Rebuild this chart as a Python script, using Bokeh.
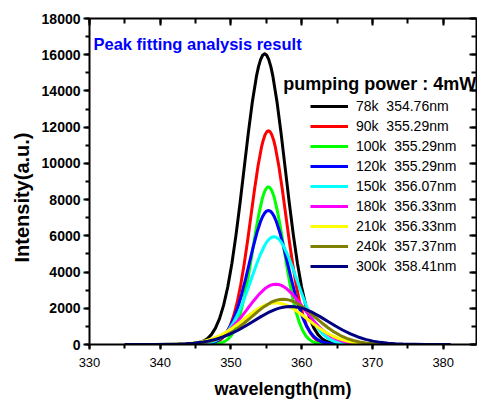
from bokeh.plotting import figure
from bokeh.models import (Range1d, LinearAxis, SingleIntervalTicker, Legend,
                          LegendItem, Label, Title)
from bokeh.embed import file_html
from bokeh.resources import INLINE

# ---------------- data ----------------
temperatures = ["78k", "90k", "100k", "120k", "150k", "180k", "210k", "240k", "300k"]
peak_nm = ["354.76", "355.29", "355.29", "355.29", "356.07", "356.33", "356.33", "357.37", "358.41"]
colors = ["#000000", "#ff0000", "#00ff00", "#0000ff", "#00ffff",
          "#ff00ff", "#ffff00", "#808000", "#000080"]

wl_78k = [335, 343.16, 344.32, 345.19, 346.06, 346.64, 347.22, 347.80, 348.38, 348.96, 349.54,
          350.12, 350.70, 351.28, 351.86, 352.44, 353.02, 353.60, 353.89, 354.18, 354.47, 354.76,
          355.05, 355.34, 355.63, 355.92, 356.50, 357.08, 357.66, 358.24, 358.82, 359.40, 359.98,
          360.56, 361.14, 361.72, 362.30, 362.88, 363.46, 364.33, 365.20, 366.36, 381]
int_78k = [0, 5, 25, 69, 178, 318, 547, 901, 1427, 2172, 3176, 4463, 6024, 7812, 9735, 11655,
           13406, 14816, 15344, 15732, 15970, 16050, 15970, 15732, 15344, 14816, 13406, 11655,
           9735, 7812, 6024, 4463, 3176, 2172, 1427, 901, 547, 318, 178, 69, 25, 5, 0]

wl_90k = [335, 345.49, 346.47, 347.21, 347.94, 348.43, 348.92, 349.41, 349.90, 350.39, 350.88,
          351.37, 351.86, 352.35, 352.84, 353.33, 353.82, 354.31, 354.56, 354.80, 355.05, 355.29,
          355.54, 355.78, 356.03, 356.27, 356.76, 357.25, 357.74, 358.23, 358.72, 359.21, 359.70,
          360.19, 360.68, 361.17, 361.66, 362.15, 362.64, 363.38, 364.11, 365.09, 381]
int_90k = [0, 4, 18, 51, 131, 234, 402, 662, 1049, 1597, 2335, 3281, 4429, 5744, 7157, 8569,
           9856, 10893, 11281, 11566, 11741, 11800, 11741, 11566, 11281, 10893, 9856, 8569,
           7157, 5744, 4429, 3281, 2335, 1597, 1049, 662, 402, 234, 131, 51, 18, 4, 0]

wl_100k = [335, 346.49, 347.37, 348.03, 348.69, 349.13, 349.57, 350.01, 350.45, 350.89, 351.33,
           351.77, 352.21, 352.65, 353.09, 353.53, 353.97, 354.41, 354.63, 354.85, 355.07, 355.29,
           355.51, 355.73, 355.95, 356.17, 356.61, 357.05, 357.49, 357.93, 358.37, 358.81, 359.25,
           359.69, 360.13, 360.57, 361.01, 361.45, 361.89, 362.55, 363.21, 364.09, 381]
int_100k = [0, 3, 13, 38, 97, 173, 296, 488, 774, 1177, 1722, 2419, 3265, 4235, 5277, 6318,
            7267, 8031, 8317, 8528, 8657, 8700, 8657, 8528, 8317, 8031, 7267, 6318,
            5277, 4235, 3265, 2419, 1722, 1177, 774, 488, 296, 173, 97, 38, 13, 3, 0]

wl_120k = [335, 344.49, 345.57, 346.38, 347.19, 347.73, 348.27, 348.81, 349.35, 349.89, 350.43,
           350.97, 351.51, 352.05, 352.59, 353.13, 353.67, 354.21, 354.48, 354.75, 355.02, 355.29,
           355.56, 355.83, 356.10, 356.37, 356.91, 357.45, 357.99, 358.53, 359.07, 359.61, 360.15,
           360.69, 361.23, 361.77, 362.31, 362.85, 363.39, 364.20, 365.01, 366.09, 381]
int_120k = [0, 2, 11, 32, 82, 147, 252, 415, 658, 1002, 1464, 2057, 2777, 3602, 4488, 5374,
            6181, 6831, 7074, 7253, 7363, 7400, 7363, 7253, 7074, 6831, 6181, 5374,
            4488, 3602, 2777, 2057, 1464, 1002, 658, 415, 252, 147, 82, 32, 11, 2, 0]

wl_150k = [335, 343.27, 344.55, 345.51, 346.47, 347.11, 347.75, 348.39, 349.03, 349.67, 350.31,
           350.95, 351.59, 352.23, 352.87, 353.51, 354.15, 354.79, 355.11, 355.43, 355.75, 356.07,
           356.39, 356.71, 357.03, 357.35, 357.99, 358.63, 359.27, 359.91, 360.55, 361.19, 361.83,
           362.47, 363.11, 363.75, 364.39, 365.03, 365.67, 366.63, 367.59, 368.87, 381]
int_150k = [0, 2, 9, 26, 66, 118, 203, 334, 529, 805, 1178, 1654, 2233, 2896, 3609, 4321,
            4970, 5493, 5688, 5832, 5920, 5950, 5920, 5832, 5688, 5493, 4970, 4321,
            3609, 2896, 2233, 1654, 1178, 805, 529, 334, 203, 118, 66, 26, 9, 2, 0]

wl_180k = [335, 340.73, 342.29, 343.46, 344.63, 345.41, 346.19, 346.97, 347.75, 348.53, 349.31,
           350.09, 350.87, 351.65, 352.43, 353.21, 353.99, 354.77, 355.16, 355.55, 355.94, 356.33,
           356.72, 357.11, 357.50, 357.89, 358.67, 359.45, 360.23, 361.01, 361.79, 362.57, 363.35,
           364.13, 364.91, 365.69, 366.47, 367.25, 368.03, 369.20, 370.37, 371.93, 381]
int_180k = [0, 1, 5, 14, 37, 66, 113, 187, 296, 451, 659, 926, 1250, 1621, 2020, 2418,
            2781, 3074, 3183, 3264, 3313, 3330, 3313, 3264, 3183, 3074, 2781, 2418,
            2020, 1621, 1250, 926, 659, 451, 296, 187, 113, 66, 37, 14, 5, 1, 0]

wl_210k = [335, 338.33, 340.13, 341.48, 342.83, 343.73, 344.63, 345.53, 346.43, 347.33, 348.23,
           349.13, 350.03, 350.93, 351.83, 352.73, 353.63, 354.53, 354.98, 355.43, 355.88, 356.33,
           356.78, 357.23, 357.68, 358.13, 359.03, 359.93, 360.83, 361.73, 362.63, 363.53, 364.43,
           365.33, 366.23, 367.13, 368.03, 368.93, 369.83, 371.18, 372.53, 374.33, 381]
int_210k = [0, 1, 4, 10, 26, 46, 78, 129, 205, 311, 455, 640, 863, 1120, 1395, 1670,
            1921, 2123, 2199, 2254, 2289, 2300, 2289, 2254, 2199, 2123, 1921, 1670,
            1395, 1120, 863, 640, 455, 311, 205, 129, 78, 46, 26, 10, 4, 1, 0]

wl_240k = [335, 339.37, 341.17, 342.52, 343.87, 344.77, 345.67, 346.57, 347.47, 348.37, 349.27,
           350.17, 351.07, 351.97, 352.87, 353.77, 354.67, 355.57, 356.02, 356.47, 356.92, 357.37,
           357.82, 358.27, 358.72, 359.17, 360.07, 360.97, 361.87, 362.77, 363.67, 364.57, 365.47,
           366.37, 367.27, 368.17, 369.07, 369.97, 370.87, 372.22, 373.57, 375.37, 381]
int_240k = [0, 1, 4, 11, 28, 50, 85, 140, 222, 338, 495, 695, 938, 1217, 1516, 1815,
            2088, 2308, 2390, 2450, 2488, 2500, 2488, 2450, 2390, 2308, 2088, 1815,
            1516, 1217, 938, 695, 495, 338, 222, 140, 85, 50, 28, 11, 4, 1, 0]

wl_300k = [335, 337.21, 339.33, 340.92, 342.51, 343.57, 344.63, 345.69, 346.75, 347.81, 348.87,
           349.93, 350.99, 352.05, 353.11, 354.17, 355.23, 356.29, 356.82, 357.35, 357.88, 358.41,
           358.94, 359.47, 360.00, 360.53, 361.59, 362.65, 363.71, 364.77, 365.83, 366.89, 367.95,
           369.01, 370.07, 371.13, 372.19, 373.25, 374.31, 375.90, 377.49, 379.61, 381]
int_300k = [0, 1, 3, 9, 23, 42, 72, 118, 187, 284, 416, 584, 788, 1022, 1274, 1525,
            1754, 1939, 2008, 2058, 2090, 2100, 2090, 2058, 2008, 1939, 1754, 1525,
            1274, 1022, 788, 584, 416, 284, 187, 118, 72, 42, 23, 9, 3, 1, 0]

x_ticks_interval = 10
y_ticks_interval = 2000

wavelengths = [wl_78k, wl_90k, wl_100k, wl_120k, wl_150k, wl_180k, wl_210k, wl_240k, wl_300k]
intensities = [int_78k, int_90k, int_100k, int_120k, int_150k, int_180k, int_210k, int_240k, int_300k]

# ---------------- figure ----------------
FONT = "Liberation Sans"

p = figure(width=477, height=401, output_backend="svg", toolbar_location=None,
           x_range=Range1d(330, 384.7), y_range=Range1d(0, 18000),
           min_border_left=89, min_border_right=1, min_border_top=18, min_border_bottom=56,
           x_axis_label="wavelength(nm)")
p.xgrid.visible = False
p.ygrid.visible = False
p.outline_line_color = None
p.background_fill_color = "white"
p.border_fill_color = "white"

# bottom axis
xa = p.xaxis[0]
xa.ticker = SingleIntervalTicker(interval=x_ticks_interval, num_minor_ticks=2)
xa.axis_line_width = 2
xa.major_tick_line_width = 2
xa.minor_tick_line_width = 2
xa.major_tick_in = 0
xa.major_tick_out = 5
xa.minor_tick_in = 0
xa.minor_tick_out = 4
xa.major_label_standoff = 8
xa.major_label_text_font = FONT
xa.major_label_text_font_size = "13px"
xa.major_label_text_color = "black"
xa.axis_label_text_font = FONT
xa.axis_label_text_font_style = "bold"
xa.axis_label_text_font_size = "18px"
xa.axis_label_text_color = "black"
xa.axis_label_standoff = 9

# left axis
ya = p.yaxis[0]
ya.ticker = SingleIntervalTicker(interval=y_ticks_interval, num_minor_ticks=2)
ya.axis_line_width = 2
ya.major_tick_line_width = 2
ya.minor_tick_line_width = 2
ya.major_tick_in = 0
ya.major_tick_out = 6
ya.minor_tick_in = 0
ya.minor_tick_out = 4
ya.major_label_standoff = 3
ya.major_label_text_font = FONT
ya.major_label_text_font_style = "bold"
ya.major_label_text_font_size = "14px"
ya.major_label_text_color = "black"

# y axis title, set a little below the frame centre as in the reference
p.add_layout(Title(text="Intensity(a.u.)", align="left", offset=82, standoff=12,
                   text_font=FONT, text_font_style="bold", text_font_size="20px",
                   text_color="black"), "left")

# top and right axes: ticks only, pointing inward, no labels drawn
def tick_only_axis(interval):
    ax = LinearAxis(ticker=SingleIntervalTicker(interval=interval, num_minor_ticks=2))
    ax.axis_line_width = 2
    ax.major_tick_line_width = 2
    ax.minor_tick_line_width = 2
    ax.major_tick_in = 7
    ax.major_tick_out = 0
    ax.minor_tick_in = 5
    ax.minor_tick_out = 0
    ax.major_label_standoff = 0
    ax.major_label_text_font_size = "1px"
    ax.major_label_text_color = None
    return ax

p.add_layout(tick_only_axis(x_ticks_interval), "above")
p.add_layout(tick_only_axis(y_ticks_interval), "right")

# curves
items = []
for t, pk, c, xs, ys in zip(temperatures, peak_nm, colors, wavelengths, intensities):
    r = p.line(xs, ys, line_color=c, line_width=3, line_join="round")
    items.append(LegendItem(label=f"{t}  {pk}nm", renderers=[r]))

legend = Legend(items=items, location=(221, 68), glyph_width=38, glyph_height=20,
                label_height=20, label_standoff=8, spacing=0, padding=0, margin=0,
                border_line_color=None, background_fill_alpha=0,
                label_text_font=FONT, label_text_font_size="14px",
                label_text_color="black")
p.add_layout(legend)

p.add_layout(Label(x=330.56, y=16566, text="Peak fitting analysis result",
                   text_font=FONT, text_font_style="bold", text_font_size="16.5px",
                   text_color="#0000ff", text_baseline="alphabetic"))
p.add_layout(Label(x=357.4, y=14364, text="pumping power : 4mW",
                   text_font=FONT, text_font_style="bold", text_font_size="18px",
                   text_color="black", text_baseline="alphabetic"))

open("out.html", "w").write(file_html(p, INLINE))
